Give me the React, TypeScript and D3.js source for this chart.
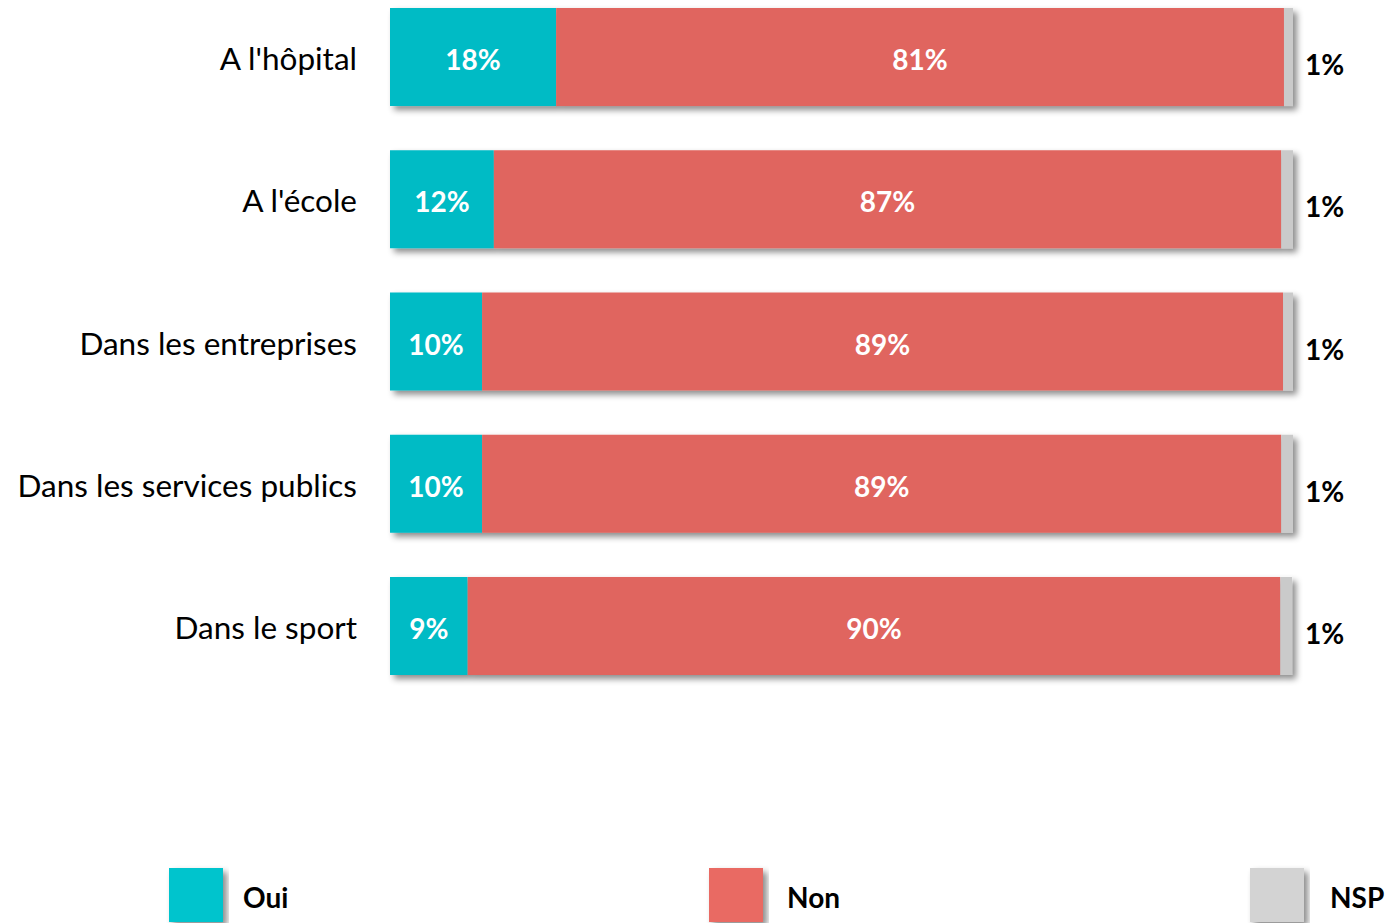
import React from "react";
import * as d3 from "d3";

const categories = [
  "A l'hôpital",
  "A l'école",
  "Dans les entreprises",
  "Dans les services publics",
  "Dans le sport",
];
const oui = [18.4, 11.5, 10.2, 10.2, 8.6];
const non = [80.6, 87.2, 88.7, 88.5, 90.0];
const nsp = [1.0, 1.3, 1.1, 1.3, 1.3];
const seriesNames = ["Oui", "Non", "NSP"];
const seriesColors = ["#00BBC5", "#E0655F", "#CACACA"];
const legendColors = ["#00C4CD", "#E96A64", "#D3D3D3"];

const W = 1385;
const H = 923;
const FONT = "Lato, 'Open Sans', sans-serif";

export default function App() {
  const x = d3.scaleLinear().domain([0, 100]).range([390, 1293]);
  const y = d3
    .scaleBand<string>()
    .domain(categories)
    .range([8, 675])
    .paddingInner(0.311)
    .paddingOuter(0);
  const bw = y.bandwidth();

  const rows = categories.map((c, i) => {
    const vals = [oui[i], non[i], nsp[i]];
    let acc = 0;
    const segs = vals.map((v, k) => {
      const s = { x0: acc, x1: acc + v, v, k };
      acc += v;
      return s;
    });
    return { c, segs };
  });

  const legendX = [169, 709, 1250];
  const legendTextX = [243, 787, 1330];

  return (
    <svg
      width={W}
      height={H}
      style={{ position: "absolute", left: 0, top: 0, background: "#fff" }}
    >
      <defs>
        <filter id="sh" x="-5%" y="-20%" width="115%" height="160%">
          <feDropShadow dx="4" dy="4" stdDeviation="3" floodColor="#000" floodOpacity="0.45" />
        </filter>
      </defs>
      {rows.map((r) => {
        const y0 = y(r.c)!;
        const cy = y0 + bw / 2;
        return (
          <g key={r.c}>
            <g filter="url(#sh)">
              {r.segs.map((s) => (
                <rect
                  key={s.k}
                  x={x(s.x0)}
                  y={y0}
                  width={x(s.x1) - x(s.x0)}
                  height={bw}
                  fill={seriesColors[s.k]}
                />
              ))}
            </g>
            <text
              x={357}
              y={cy + 13}
              textAnchor="end"
              fontFamily={FONT}
              fontSize={31.5}
              fill="#000"
            >
              {r.c}
            </text>
            {r.segs.slice(0, 2).map((s) => (
              <text
                key={s.k}
                x={(x(s.x0) + x(s.x1)) / 2}
                y={cy + 13}
                textAnchor="middle"
                fontFamily={FONT}
                fontWeight="bold"
                fontSize={28}
                fill="#fff"
              >
                {Math.round(s.v)}%
              </text>
            ))}
            <text
              x={1305}
              y={cy + 18}
              fontFamily={FONT}
              fontWeight="bold"
              fontSize={28}
              fill="#000"
            >
              {Math.round(r.segs[2].v)}%
            </text>
          </g>
        );
      })}
      {seriesNames.map((n, i) => (
        <g key={n}>
          <rect
            x={legendX[i]}
            y={868}
            width={54}
            height={54}
            fill={legendColors[i]}
            filter="url(#sh)"
          />
          <text
            x={legendTextX[i]}
            y={908}
            fontFamily={FONT}
            fontWeight="bold"
            fontSize={28}
            fill="#000"
          >
            {n}
          </text>
        </g>
      ))}
    </svg>
  );
}
